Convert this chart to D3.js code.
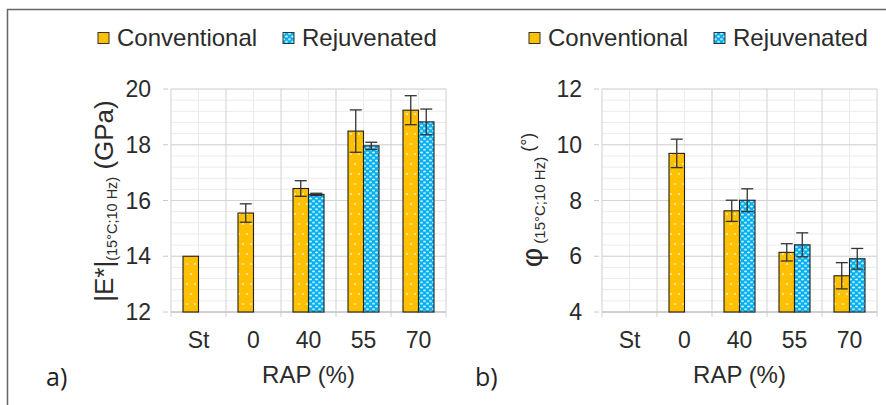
<!DOCTYPE html>
<html><head><meta charset="utf-8">
<script src="https://cdn.jsdelivr.net/npm/d3@7/dist/d3.min.js"></script>
<style>body{margin:0;background:#fff}svg{display:block}</style>
</head><body>
<script>
const categories = ["St", "0", "40", "55", "70"];
const seriesNames = ["Conventional", "Rejuvenated"];
const modulusConv = [14.0, 15.55, 16.43, 18.49, 19.24];
const modulusConvErr = [0, 0.33, 0.28, 0.76, 0.52];
const modulusRej = [null, null, 16.22, 17.96, 18.82];
const modulusRejErr = [null, null, 0.04, 0.13, 0.46];
const phaseConv = [null, 9.69, 7.63, 6.14, 5.30];
const phaseConvErr = [null, 0.51, 0.38, 0.31, 0.47];
const phaseRej = [null, null, 8.01, 6.41, 5.91];
const phaseRejErr = [null, null, 0.41, 0.43, 0.37];
const modulusTicks = [12, 14, 16, 18, 20];
const phaseTicks = [4, 6, 8, 10, 12];

const W = 886, H = 405;
const svg = d3.select("body").append("svg").attr("width", W).attr("height", H);
const defs = svg.append("defs");

const p1 = defs.append("pattern").attr("id", "patConv").attr("patternUnits", "userSpaceOnUse")
  .attr("width", 8).attr("height", 20);
p1.append("rect").attr("width", 8).attr("height", 20).attr("fill", "#FFC000");
p1.append("circle").attr("cx", 3).attr("cy", 4).attr("r", 0.9).attr("fill", "#fff").attr("opacity", 0.8);
p1.append("circle").attr("cx", 7).attr("cy", 14).attr("r", 0.9).attr("fill", "#fff").attr("opacity", 0.8);

const p2 = defs.append("pattern").attr("id", "patRej").attr("patternUnits", "userSpaceOnUse")
  .attr("width", 6).attr("height", 5.4);
p2.append("rect").attr("width", 6).attr("height", 5.4).attr("fill", "#00B0F0");
p2.append("ellipse").attr("cx", 1.5).attr("cy", 1.35).attr("rx", 1.5).attr("ry", 1).attr("fill", "#fff").attr("opacity", 0.9);
p2.append("ellipse").attr("cx", 4.5).attr("cy", 4.05).attr("rx", 1.5).attr("ry", 1).attr("fill", "#fff").attr("opacity", 0.9);

const fills = ["url(#patConv)", "url(#patRej)"];
const txtCol = "#2b2b2b";
const font = "'Liberation Sans', Arial, sans-serif";

svg.append("path").attr("d", `M7.5,${H} L7.5,9.5 L${W},9.5`).attr("fill", "none")
  .attr("stroke", "#666").attr("stroke-width", 1.5);

function panel(opts) {
  const {left, right, top, bottom, domain, ticks, conv, convErr, rej, rejErr, label} = opts;
  const g = svg.append("g");
  const x = d3.scaleBand().domain(categories).range([left, right]).paddingInner(0).paddingOuter(0);
  const xs = d3.scaleBand().domain(seriesNames).range([0, x.bandwidth()]).paddingInner(0).paddingOuter(0.774);
  const y = d3.scaleLinear().domain(domain).range([bottom, top]);

  const minor = d3.range(domain[0], domain[1] + 1e-9, 0.4);
  g.selectAll(".hmin").data(minor).join("line")
    .attr("x1", left).attr("x2", right).attr("y1", d => y(d)).attr("y2", d => y(d))
    .attr("stroke", "#ebebeb").attr("stroke-width", 1);
  g.selectAll(".vmin").data(categories).join("line")
    .attr("x1", d => x(d) + x.bandwidth() / 2).attr("x2", d => x(d) + x.bandwidth() / 2)
    .attr("y1", top).attr("y2", bottom).attr("stroke", "#ebebeb").attr("stroke-width", 1);
  g.selectAll(".hmaj").data(ticks).join("line")
    .attr("x1", left).attr("x2", right).attr("y1", d => y(d)).attr("y2", d => y(d))
    .attr("stroke", "#d4d4d4").attr("stroke-width", 1);
  const bounds = categories.map(c => x(c)).concat([right]);
  g.selectAll(".vmaj").data(bounds).join("line")
    .attr("x1", d => d).attr("x2", d => d).attr("y1", top).attr("y2", bottom + 5)
    .attr("stroke", "#d0d0d0").attr("stroke-width", 1);
  g.append("line").attr("x1", left).attr("x2", right).attr("y1", bottom).attr("y2", bottom)
    .attr("stroke", "#c8c8c8").attr("stroke-width", 1.3);
  g.selectAll(".yt").data(ticks).join("line")
    .attr("x1", left - 8).attr("x2", left - 3).attr("y1", d => y(d)).attr("y2", d => y(d))
    .attr("stroke", "#c8c8c8").attr("stroke-width", 1);
  g.selectAll(".ytl").data(ticks).join("text")
    .attr("x", left - 20).attr("y", d => y(d) + 8).attr("text-anchor", "end")
    .attr("font-family", font).attr("font-size", 23).attr("fill", txtCol).text(d => d);
  g.selectAll(".xtl").data(categories).join("text")
    .attr("x", d => x(d) + x.bandwidth() / 2).attr("y", 348).attr("text-anchor", "middle")
    .attr("font-family", font).attr("font-size", 23).attr("fill", txtCol).text(d => d);
  g.append("text").attr("x", (left + right) / 2).attr("y", 383).attr("text-anchor", "middle")
    .attr("font-family", font).attr("font-size", 24).attr("fill", txtCol).text("RAP (%)");
  g.append("text").attr("x", opts.labelX).attr("y", 386)
    .attr("font-family", "'Open Sans', sans-serif").attr("font-size", 25).attr("fill", "#222").text(label);

  const series = [[conv, convErr], [rej, rejErr]];
  series.forEach(([vals, errs], si) => {
    const data = categories.map((c, i) => ({c, v: vals[i], e: errs[i]})).filter(d => d.v != null);
    const bx = d => x(d.c) + xs(seriesNames[si]);
    const bw = xs.bandwidth();
    g.selectAll(".bar" + si).data(data).join("rect")
      .attr("x", bx).attr("width", bw)
      .attr("y", d => y(d.v)).attr("height", d => y(domain[0]) - y(d.v))
      .attr("fill", fills[si]).attr("stroke", "#1f1f1f").attr("stroke-width", 1.1);
    const ed = data.filter(d => d.e > 0);
    const cx = d => bx(d) + bw / 2;
    g.selectAll(".ev" + si).data(ed).join("line")
      .attr("x1", cx).attr("x2", cx).attr("y1", d => y(d.v + d.e)).attr("y2", d => y(d.v - d.e))
      .attr("stroke", "#333").attr("stroke-width", 1.3);
    [1, -1].forEach((s, k) => {
      g.selectAll(".ec" + si + "k" + k).data(ed).join("line")
        .attr("x1", d => cx(d) - 6).attr("x2", d => cx(d) + 6)
        .attr("y1", d => y(d.v + s * d.e)).attr("y2", d => y(d.v + s * d.e))
        .attr("stroke", "#333").attr("stroke-width", 1.3);
    });
  });

  const lx = left - 73;
  const leg = [{n: seriesNames[0], sx: lx, tx: lx + 19}, {n: seriesNames[1], sx: lx + 185, tx: lx + 204}];
  leg.forEach((l, i) => {
    g.append("rect").attr("x", l.sx).attr("y", 32.5).attr("width", 11).attr("height", 11)
      .attr("fill", i === 0 ? "#FFC000" : fills[1]).attr("stroke", "#333").attr("stroke-width", 1);
    g.append("text").attr("x", l.tx).attr("y", 46).attr("font-family", font).attr("font-size", 24)
      .attr("fill", txtCol).text(l.n);
  });
  return {x, y};
}

panel({left: 171, right: 446, top: 89, bottom: 312, domain: [12, 20], ticks: modulusTicks,
  conv: modulusConv, convErr: modulusConvErr, rej: modulusRej, rejErr: modulusRejErr, label: "a)", labelX: 46});
panel({left: 602, right: 877, top: 89, bottom: 312, domain: [4, 12], ticks: phaseTicks,
  conv: phaseConv, convErr: phaseConvErr, rej: phaseRej, rejErr: phaseRejErr, label: "b)", labelX: 475});

const ta = svg.append("text").attr("transform", `translate(113,201) rotate(-90)`).attr("text-anchor", "middle")
  .attr("font-family", font).attr("fill", txtCol);
ta.append("tspan").attr("font-size", 26).text("|E*|");
ta.append("tspan").attr("font-size", 14.5).attr("dy", 4).text("(15°C;10 Hz)");
ta.append("tspan").attr("font-size", 26).attr("dy", -4).text(" (GPa)");

const tb = svg.append("text").attr("transform", `translate(542,200) rotate(-90)`).attr("text-anchor", "middle")
  .attr("font-family", font).attr("fill", txtCol);
tb.append("tspan").attr("font-size", 30).text("φ");
tb.append("tspan").attr("font-size", 15).attr("dy", 3).text(" (15°C;10 Hz)");
tb.append("tspan").attr("font-size", 18).attr("dy", -11).text(" (°)");
</script>
</body></html>
